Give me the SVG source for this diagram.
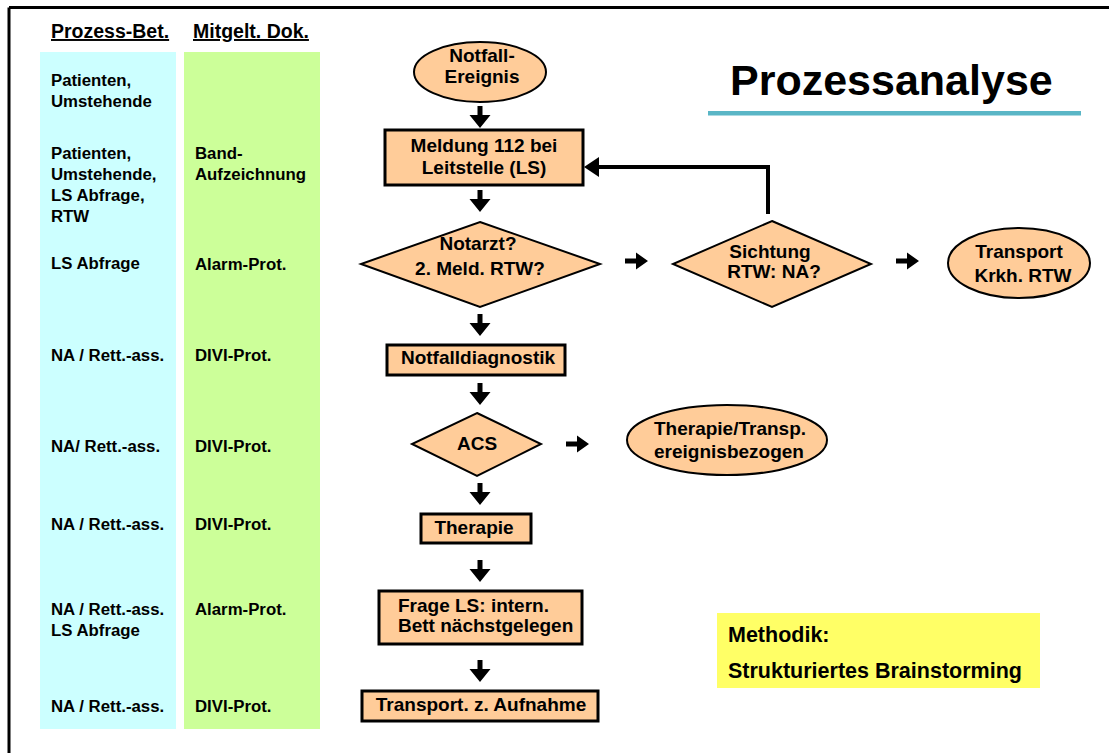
<svg xmlns="http://www.w3.org/2000/svg" width="1109" height="753" viewBox="0 0 1109 753">
  <style>
    text { font-family: "Liberation Sans", Arial, sans-serif; font-weight: bold; fill: #000; }
    .hdr { font-size: 19.5px; text-decoration: underline; }
    .col { font-size: 16.8px; }
    .lbl { font-size: 19px; text-anchor: middle; }
    .lbl-l { font-size: 19px; }
    .shape { fill: #FFCC99; stroke: #000; }
    .box { stroke-width: 3; }
    .oval, .dia { stroke-width: 2; }
    .arrow { fill: #000; }
  </style>
  <defs>
    <path id="arrowDown" d="M-2.5,0 H2.5 V9 H10.5 L0,22 L-10.5,9 H-2.5 Z"/>
    <path id="arrowRight" d="M0,-2.5 V2.5 H11 V8.5 L23,0 L11,-8.5 V-2.5 Z"/>
  </defs>

  <rect width="1109" height="753" fill="#fff"/>

  <!-- page frame: top and left border -->
  <g id="frame" stroke="#000" stroke-width="3" fill="none">
    <line x1="9" y1="7.5" x2="1109" y2="7.5"/>
    <line x1="9" y1="7.5" x2="9" y2="753"/>
  </g>

  <!-- side columns -->
  <g id="col-participants">
    <rect x="40" y="52" width="136" height="677" fill="#CCFFFF"/>
    <text class="hdr" x="51" y="38">Prozess-Bet.</text>
    <text class="col" x="51" y="86">Patienten,</text>
    <text class="col" x="51" y="107">Umstehende</text>
    <text class="col" x="51" y="159">Patienten,</text>
    <text class="col" x="51" y="180">Umstehende,</text>
    <text class="col" x="51" y="201">LS Abfrage,</text>
    <text class="col" x="51" y="222">RTW</text>
    <text class="col" x="51" y="269">LS Abfrage</text>
    <text class="col" x="51" y="361">NA / Rett.-ass.</text>
    <text class="col" x="51" y="452">NA/ Rett.-ass.</text>
    <text class="col" x="51" y="530">NA / Rett.-ass.</text>
    <text class="col" x="51" y="615">NA / Rett.-ass.</text>
    <text class="col" x="51" y="636">LS Abfrage</text>
    <text class="col" x="51" y="712">NA / Rett.-ass.</text>
  </g>
  <g id="col-documents">
    <rect x="184" y="52" width="136" height="677" fill="#CCFF99"/>
    <text class="hdr" x="193" y="38">Mitgelt. Dok.</text>
    <text class="col" x="195" y="159">Band-</text>
    <text class="col" x="195" y="180">Aufzeichnung</text>
    <text class="col" x="195" y="270">Alarm-Prot.</text>
    <text class="col" x="195" y="361">DIVI-Prot.</text>
    <text class="col" x="195" y="452">DIVI-Prot.</text>
    <text class="col" x="195" y="530">DIVI-Prot.</text>
    <text class="col" x="195" y="615">Alarm-Prot.</text>
    <text class="col" x="195" y="712">DIVI-Prot.</text>
  </g>

  <!-- title -->
  <g id="title">
    <text x="730" y="95" style="font-size:43px">Prozessanalyse</text>
    <rect x="708" y="111" width="373" height="4.5" fill="#5AB6C6"/>
  </g>

  <!-- connectors -->
  <g id="connectors" class="arrow">
    <use href="#arrowDown" x="480" y="106"/>
    <use href="#arrowDown" x="480" y="190"/>
    <use href="#arrowDown" x="480" y="314"/>
    <use href="#arrowDown" x="480" y="383"/>
    <use href="#arrowDown" x="480" y="483"/>
    <use href="#arrowDown" x="480" y="560"/>
    <use href="#arrowDown" x="480" y="660"/>
    <use href="#arrowRight" x="625" y="261"/>
    <use href="#arrowRight" x="896" y="261"/>
    <use href="#arrowRight" x="566" y="444"/>
    <!-- feedback from triage back to dispatch -->
    <polyline points="768,214 768,167 596,167" fill="none" stroke="#000" stroke-width="4"/>
    <path d="M584,167 L599,157 V177 Z"/>
  </g>

  <!-- flow nodes -->
  <g id="n-notfall">
    <ellipse class="shape oval" cx="480" cy="72" rx="66" ry="30"/>
    <text class="lbl" x="482" y="62">Notfall-</text>
    <text class="lbl" x="482" y="83">Ereignis</text>
  </g>
  <g id="n-meldung">
    <rect class="shape box" x="385" y="130" width="198" height="55"/>
    <text class="lbl" x="484" y="152">Meldung 112 bei</text>
    <text class="lbl" x="484" y="174">Leitstelle (LS)</text>
  </g>
  <g id="n-notarzt">
    <polygon class="shape dia" points="480,222 600,264 480,307 361,264"/>
    <text class="lbl" x="478" y="250">Notarzt?</text>
    <text class="lbl" x="480" y="275">2. Meld. RTW?</text>
  </g>
  <g id="n-sichtung">
    <polygon class="shape dia" points="772,221 871,264 772,307 673,264"/>
    <text class="lbl" x="770" y="258">Sichtung</text>
    <text class="lbl" x="774" y="278">RTW: NA?</text>
  </g>
  <g id="n-transport-krkh">
    <ellipse class="shape oval" cx="1019" cy="263" rx="71" ry="35"/>
    <text class="lbl" x="1019" y="258">Transport</text>
    <text class="lbl" x="1023" y="282">Krkh. RTW</text>
  </g>
  <g id="n-diagnostik">
    <rect class="shape box" x="387" y="345" width="178" height="30"/>
    <text class="lbl" x="478" y="364">Notfalldiagnostik</text>
  </g>
  <g id="n-acs">
    <polygon class="shape dia" points="477,413 541,444 477,476 412,444"/>
    <text class="lbl" x="477" y="450">ACS</text>
  </g>
  <g id="n-therapie-transp">
    <ellipse class="shape oval" cx="727" cy="440" rx="100" ry="35"/>
    <text class="lbl" x="730" y="435">Therapie/Transp.</text>
    <text class="lbl" x="729" y="458">ereignisbezogen</text>
  </g>
  <g id="n-therapie">
    <rect class="shape box" x="421" y="514" width="110" height="29"/>
    <text class="lbl" x="474" y="534">Therapie</text>
  </g>
  <g id="n-frage">
    <rect class="shape box" x="379" y="591" width="203" height="53"/>
    <text class="lbl-l" x="398" y="612">Frage LS: intern.</text>
    <text class="lbl-l" x="398" y="632">Bett nächstgelegen</text>
  </g>
  <g id="n-aufnahme">
    <rect class="shape box" x="362" y="691" width="236" height="30"/>
    <text class="lbl" x="481" y="711">Transport. z. Aufnahme</text>
  </g>

  <!-- method note -->
  <g id="methodik">
    <rect x="717" y="613" width="323" height="75" fill="#FFFF66"/>
    <text x="728" y="642" style="font-size:21.5px">Methodik:</text>
    <text x="728" y="678" style="font-size:21.5px">Strukturiertes Brainstorming</text>
  </g>
</svg>
